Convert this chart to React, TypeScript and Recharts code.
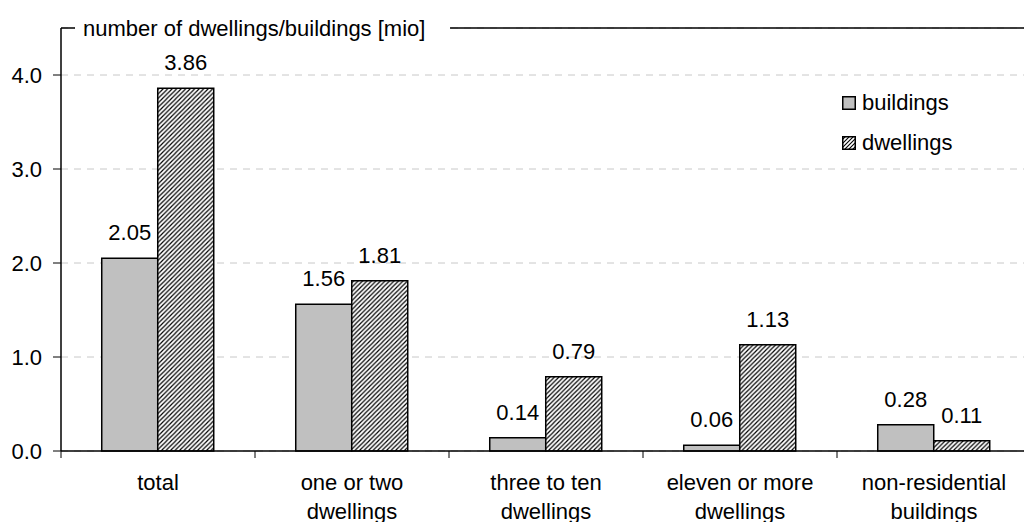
import React from "react";
import {
  BarChart,
  Bar,
  XAxis,
  YAxis,
  CartesianGrid,
  LabelList,
  ReferenceLine,
} from "recharts";

const categories = [
  "total",
  "one or two\ndwellings",
  "three to ten\ndwellings",
  "eleven or more\ndwellings",
  "non-residential\nbuildings",
];
const buildings = [2.05, 1.56, 0.14, 0.06, 0.28];
const dwellings = [3.86, 1.81, 0.79, 1.13, 0.11];
const yTicks = [0, 1, 2, 3, 4];
const title = "number of dwellings/buildings [mio]";

const data = categories.map((c, i) => ({
  name: c,
  buildings: buildings[i],
  dwellings: dwellings[i],
}));

const FONT = "'Liberation Sans', Arial, sans-serif";
const FS = 22;

const CatTick = (props: any) => {
  const { x, y, payload } = props;
  const lines = String(payload.value).split("\n");
  const half = payload && typeof payload.offset === "number" ? payload.offset : 0;
  return (
    <g>
      {half > 0 && <line x1={x - half} x2={x - half} y1={y} y2={y + 7} stroke="#000" strokeWidth={1} />}
      <text x={x} y={y} textAnchor="middle" fontSize={FS} fontFamily={FONT} fill="#000">
        {lines.map((l, i) => (
          <tspan key={i} x={x} dy={i === 0 ? 39 : 29}>
            {l}
          </tspan>
        ))}
      </text>
    </g>
  );
};

const TitleLabel = (props: any) => {
  const vb = props.viewBox || {};
  return (
    <g>
      <rect x={vb.x + 14} y={vb.y - 14} width={375} height={28} fill="#fff" />
      <text
        x={vb.x + 22}
        y={vb.y}
        dominantBaseline="central"
        fontSize={FS}
        fontFamily={FONT}
        fill="#000"
      >
        {title}
      </text>
    </g>
  );
};

const legendItems = [
  { name: "buildings", hatched: false },
  { name: "dwellings", hatched: true },
];

const LegendBox = () => (
  <div
    style={{
      position: "absolute",
      left: 842,
      top: 83,
      fontFamily: FONT,
      fontSize: FS,
      color: "#000",
      lineHeight: "40px",
    }}
  >
    {legendItems.map((it, i) => (
      <div key={i} style={{ display: "flex", alignItems: "center", height: 40 }}>
        <svg width={14} height={14} style={{ marginRight: 6 }}>
          <defs>
            <pattern id={"lh" + i} patternUnits="userSpaceOnUse" width={4} height={4}>
              <rect width={4} height={4} fill="#fff" />
              <path d="M-1,1 L1,-1 M0,4 L4,0 M3,5 L5,3" stroke="#000" strokeWidth={1.1} />
            </pattern>
          </defs>
          <rect
            x={0.75}
            y={0.75}
            width={12.5}
            height={12.5}
            fill={it.hatched ? "url(#lh" + i + ")" : "#c0c0c0"}
            stroke="#000"
            strokeWidth={1.5}
          />
        </svg>
        <span>{it.name}</span>
      </div>
    ))}
  </div>
);

export default function App() {
  return (
    <div style={{ position: "absolute", left: 0, top: 0, width: 1024, height: 522, background: "#fff", overflow: "hidden" }}>
      <BarChart
        width={1024}
        height={522}
        data={data}
        margin={{ top: 28, right: -7, left: 0, bottom: 0 }}
        barCategoryGap="21%"
        barGap={0}
      >
        <defs>
          <pattern id="hatch" patternUnits="userSpaceOnUse" width={4.5} height={4.5}>
            <rect width={4.5} height={4.5} fill="#fff" />
            <path d="M-1,1 L1,-1 M0,4.5 L4.5,0 M3.5,5.5 L5.5,3.5" stroke="#000" strokeWidth={1.2} />
          </pattern>
        </defs>
        <CartesianGrid vertical={false} stroke="#c8c8c8" strokeDasharray="7 6" />
        <XAxis
          dataKey="name"
          interval={0}
          tickLine={false}
          tickSize={0}
          tickMargin={0}
          axisLine={{ stroke: "#000", strokeWidth: 1.5 }}
          tick={<CatTick />}
          height={71}
        />
        <YAxis
          domain={[0, 4.5]}
          ticks={yTicks}
          width={61}
          tickSize={8}
          tickMargin={11}
          tickFormatter={(v: number) => v.toFixed(1)}
          tick={{ fill: "#000", fontSize: FS, fontFamily: FONT }}
          tickLine={{ stroke: "#000" }}
          axisLine={{ stroke: "#000", strokeWidth: 1.5 }}
        />
        <ReferenceLine
          y={4.5}
          stroke="#000"
          strokeWidth={1.5}
          ifOverflow="visible"
          label={<TitleLabel />}
        />
        <Bar
          dataKey="buildings"
          fill="#c0c0c0"
          stroke="#000"
          strokeWidth={1.5}
          isAnimationActive={false}
        >
          <LabelList
            dataKey="buildings"
            position="top"
            offset={18}
            formatter={(v: number) => v.toFixed(2)}
            style={{ fill: "#000", fontSize: FS, fontFamily: FONT }}
          />
        </Bar>
        <Bar
          dataKey="dwellings"
          fill="url(#hatch)"
          stroke="#000"
          strokeWidth={1.5}
          isAnimationActive={false}
        >
          <LabelList
            dataKey="dwellings"
            position="top"
            offset={18}
            formatter={(v: number) => v.toFixed(2)}
            style={{ fill: "#000", fontSize: FS, fontFamily: FONT }}
          />
        </Bar>
      </BarChart>
      <LegendBox />
    </div>
  );
}
